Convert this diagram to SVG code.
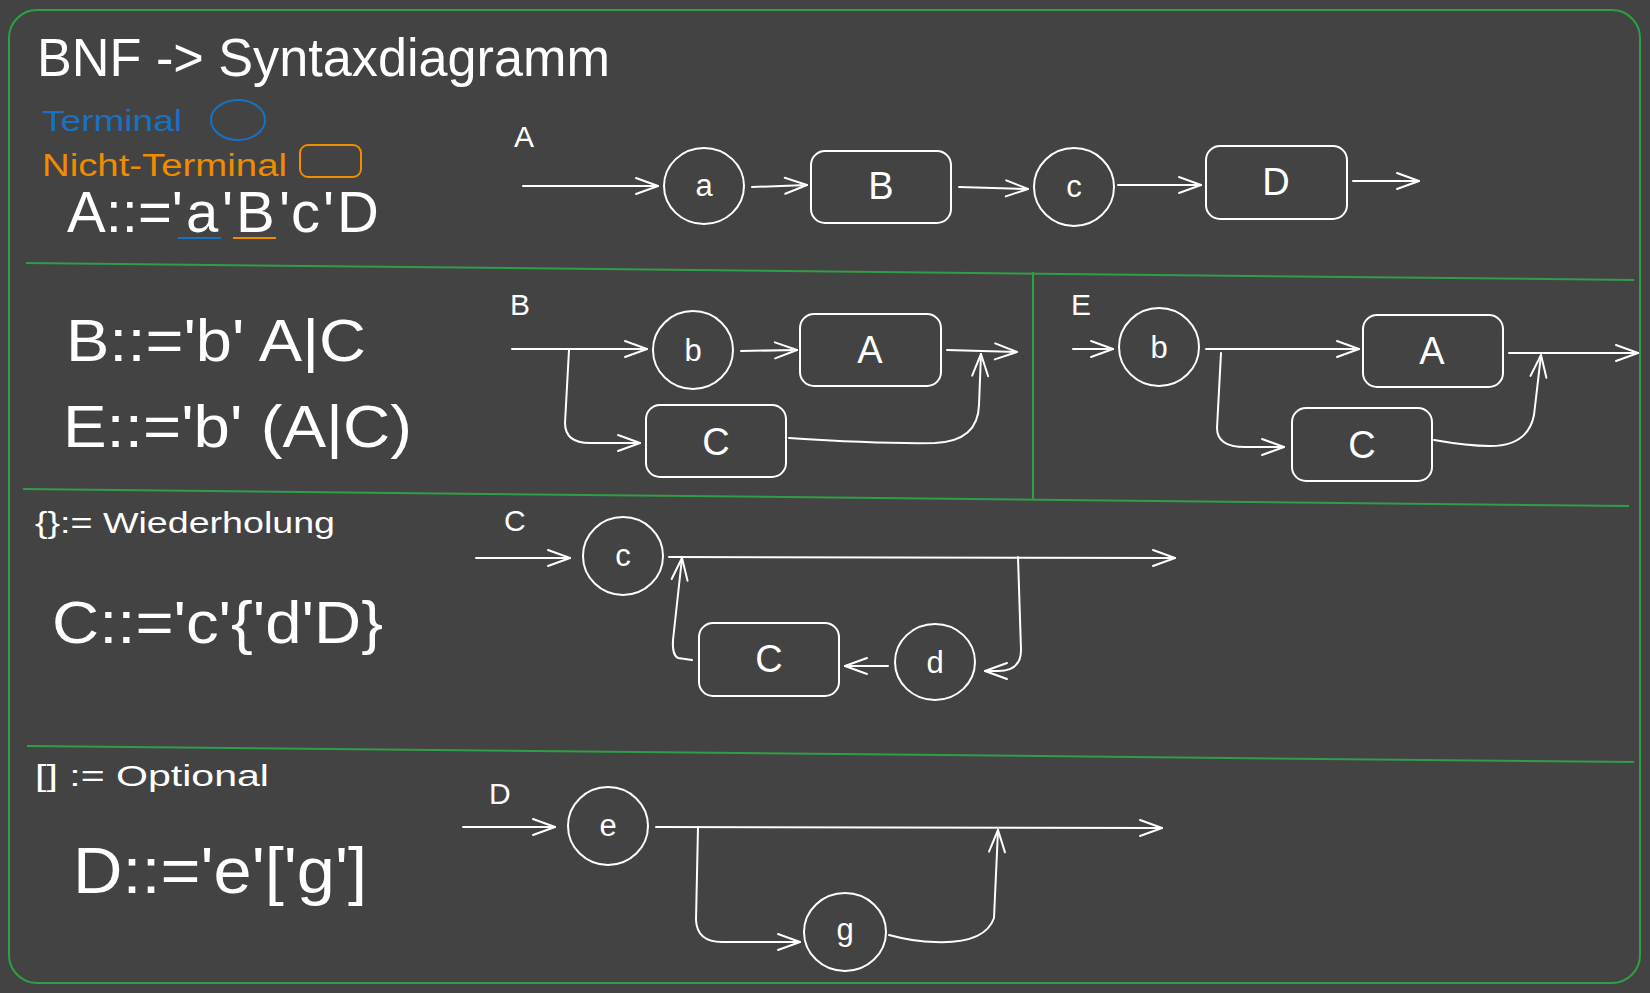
<svg xmlns="http://www.w3.org/2000/svg" width="1650" height="993" viewBox="0 0 1650 993">
<defs>
<style>
.bg{fill:#434343}
.frame{fill:none;stroke:#2f9e44;stroke-width:2}
.div{fill:none;stroke:#2f9e44;stroke-width:2}
.shape{fill:none;stroke:#ffffff;stroke-width:2}
.con{fill:none;stroke:#ffffff;stroke-width:2;stroke-linecap:round;stroke-linejoin:round}
.t{font-family:"Liberation Sans","DejaVu Sans",sans-serif;fill:#ffffff}
.lc{font-size:31px;text-anchor:middle}
.uc{font-size:38px;text-anchor:middle}
.lbl{font-size:30px}
.big{font-size:60px}
.mid{font-size:30px}
</style>
<marker id="ah" viewBox="0 0 24 18" refX="23" refY="9" markerWidth="24" markerHeight="18" markerUnits="userSpaceOnUse" orient="auto" overflow="visible">
<path d="M1,1 L23,9 L1,17" fill="none" stroke="#ffffff" stroke-width="2" stroke-linecap="round" stroke-linejoin="round"/>
</marker>
</defs>
<rect class="bg" x="0" y="0" width="1650" height="993"/>
<rect class="frame" x="9" y="10" width="1631" height="973" rx="28"/>

<g id="dividers">
<path class="div" d="M26,263 L1634,280"/>
<path class="div" d="M1033,272 L1033,500"/>
<path class="div" d="M23,489 L1629,506"/>
<path class="div" d="M27,746 L1634,762"/>
</g>

<g id="title">
<text class="t" x="37" y="76" font-size="54" textLength="573" lengthAdjust="spacingAndGlyphs">BNF -&gt; Syntaxdiagramm</text>
</g>

<g id="legend">
<text class="t" x="42" y="131" font-size="29" textLength="140" lengthAdjust="spacingAndGlyphs" style="fill:#1971c2">Terminal</text>
<ellipse cx="238" cy="120" rx="27" ry="20" fill="none" stroke="#1971c2" stroke-width="2"/>
<text class="t" x="42" y="176" font-size="31" textLength="245" lengthAdjust="spacingAndGlyphs" style="fill:#f08c00">Nicht-Terminal</text>
<rect x="300" y="145" width="61" height="32" rx="8" fill="none" stroke="#f08c00" stroke-width="2"/>
</g>

<g id="rule-A">
<text class="t big" x="67" y="232" style="font-size:58px">A::='<tspan x="186">a</tspan><tspan x="222">'</tspan><tspan x="236">B</tspan><tspan x="279">'</tspan><tspan x="291">c</tspan><tspan x="323">'</tspan><tspan x="337">D</tspan></text>
<line x1="178" y1="238" x2="221" y2="238" stroke="#1971c2" stroke-width="2"/>
<line x1="233" y1="238" x2="276" y2="238" stroke="#f08c00" stroke-width="2"/>
</g>

<g id="rule-BE">
<text class="t big" x="66" y="361" textLength="300" lengthAdjust="spacingAndGlyphs">B::='b' A|C</text>
<text class="t big" x="63" y="447" textLength="349" lengthAdjust="spacingAndGlyphs">E::='b' (A|C)</text>
</g>

<g id="rule-C">
<text class="t mid" x="35" y="533" textLength="300" lengthAdjust="spacingAndGlyphs">{}:= Wiederholung</text>
<text class="t big" x="52" y="643" textLength="331" lengthAdjust="spacingAndGlyphs">C::='c'{'d'D}</text>
</g>

<g id="rule-D">
<text class="t mid" x="35" y="786" textLength="234" lengthAdjust="spacingAndGlyphs">[] := Optional</text>
<text class="t big" x="73" y="893" style="font-size:64px" textLength="294" lengthAdjust="spacingAndGlyphs">D::='e'['g']</text>
</g>

<g id="labels">
<text class="t lbl" x="514" y="147">A</text>
<text class="t lbl" x="510" y="315">B</text>
<text class="t lbl" x="1071" y="315">E</text>
<text class="t lbl" x="504" y="531">C</text>
<text class="t lbl" x="489" y="804">D</text>
</g>

<g id="connectors">
<path class="con" marker-end="url(#ah)" d="M523,186 L658,186"/>
<path class="con" marker-end="url(#ah)" d="M752,187 L807,185"/>
<path class="con" marker-end="url(#ah)" d="M959,187 L1028,189"/>
<path class="con" marker-end="url(#ah)" d="M1118,185 L1201,185"/>
<path class="con" marker-end="url(#ah)" d="M1353,181 L1419,181"/>

<path class="con" marker-end="url(#ah)" d="M512,349 L647,349"/>
<path class="con" marker-end="url(#ah)" d="M741,351 L797,350"/>
<path class="con" marker-end="url(#ah)" d="M947,350 L1017,352"/>
<path class="con" marker-end="url(#ah)" d="M569,350 L565,423 Q565,443 590,443 L640,443"/>
<path class="con" marker-end="url(#ah)" d="M789,438 Q880,444 935,443 Q978,441 979,405 L981,354"/>

<path class="con" marker-end="url(#ah)" d="M1073,349 L1113,349"/>
<path class="con" marker-end="url(#ah)" d="M1206,349 L1359,349"/>
<path class="con" marker-end="url(#ah)" d="M1509,353 L1638,353"/>
<path class="con" marker-end="url(#ah)" d="M1221,353 L1217,428 Q1217,447 1245,447 L1284,447"/>
<path class="con" marker-end="url(#ah)" d="M1434,440 Q1468,446 1490,446 Q1528,446 1534,415 L1541,355"/>

<path class="con" marker-end="url(#ah)" d="M476,558 L570,558"/>
<path class="con" marker-end="url(#ah)" d="M669,557 L1175,558"/>
<path class="con" marker-end="url(#ah)" d="M1018,557 L1021,650 Q1021,671 998,671 L985,671"/>
<path class="con" marker-end="url(#ah)" d="M888,666 L845,666"/>
<path class="con" marker-end="url(#ah)" d="M692,660 L678,658 Q672,655 673,640 L682,558"/>

<path class="con" marker-end="url(#ah)" d="M463,827 L555,827"/>
<path class="con" marker-end="url(#ah)" d="M656,827 L1162,828"/>
<path class="con" marker-end="url(#ah)" d="M698,827 L696,920 Q697,942 722,942 L800,942"/>
<path class="con" marker-end="url(#ah)" d="M889,935 Q915,942 935,942 Q985,944 994,918 L998,830"/>
</g>

<g id="n-a"><ellipse class="shape" cx="704" cy="186" rx="40" ry="38"/><text class="t lc" x="704" y="196">a</text></g>
<g id="n-B"><rect class="shape" x="811" y="151" width="140" height="72" rx="14"/><text class="t uc" x="881" y="199">B</text></g>
<g id="n-c1"><ellipse class="shape" cx="1074" cy="187" rx="40" ry="39"/><text class="t lc" x="1074" y="197">c</text></g>
<g id="n-D"><rect class="shape" x="1206" y="146" width="141" height="73" rx="14"/><text class="t uc" x="1276" y="195">D</text></g>

<g id="n-b1"><ellipse class="shape" cx="693" cy="350" rx="40" ry="39"/><text class="t lc" x="693" y="361">b</text></g>
<g id="n-A1"><rect class="shape" x="800" y="314" width="141" height="72" rx="14"/><text class="t uc" x="870" y="363">A</text></g>
<g id="n-C1"><rect class="shape" x="646" y="405" width="140" height="72" rx="14"/><text class="t uc" x="716" y="455">C</text></g>

<g id="n-b2"><ellipse class="shape" cx="1159" cy="347" rx="40" ry="39"/><text class="t lc" x="1159" y="358">b</text></g>
<g id="n-A2"><rect class="shape" x="1363" y="315" width="140" height="72" rx="14"/><text class="t uc" x="1432" y="364">A</text></g>
<g id="n-C2"><rect class="shape" x="1292" y="408" width="140" height="73" rx="14"/><text class="t uc" x="1362" y="458">C</text></g>

<g id="n-c2"><ellipse class="shape" cx="623" cy="556" rx="40" ry="39"/><text class="t lc" x="623" y="566">c</text></g>
<g id="n-d"><ellipse class="shape" cx="935" cy="662" rx="40" ry="38"/><text class="t lc" x="935" y="673">d</text></g>
<g id="n-C3"><rect class="shape" x="699" y="623" width="140" height="73" rx="14"/><text class="t uc" x="769" y="672">C</text></g>

<g id="n-e"><ellipse class="shape" cx="608" cy="826" rx="40" ry="39"/><text class="t lc" x="608" y="836">e</text></g>
<g id="n-g"><ellipse class="shape" cx="845" cy="932" rx="41" ry="39"/><text class="t lc" x="845" y="940">g</text></g>
</svg>
